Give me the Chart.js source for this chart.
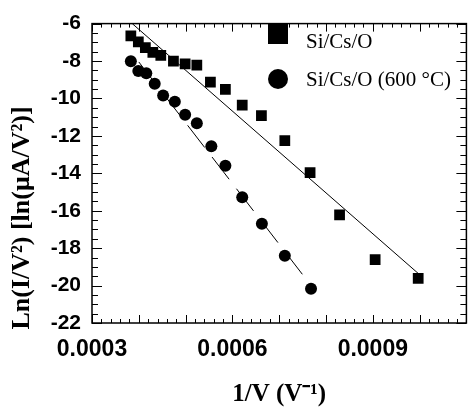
<!DOCTYPE html>
<html>
<head>
<meta charset="utf-8">
<script src="https://cdn.jsdelivr.net/npm/chart.js@4"></script>
<style>
  body { margin: 0; background: #fff; }
  canvas { display: block; }
</style>
</head>
<body>
<canvas id="myChart" width="474" height="407"></canvas>
<script>
// data
const squareX = [0.000383, 0.000399, 0.000414, 0.000430, 0.000447, 0.000474, 0.000499, 0.000524, 0.000553, 0.000585, 0.000621, 0.000662, 0.000712, 0.000766, 0.000829, 0.000905, 0.000997]
const squareY = [-6.66, -6.97, -7.28, -7.54, -7.70, -8.01, -8.15, -8.22, -9.13, -9.52, -10.36, -10.92, -12.25, -13.97, -16.22, -18.61, -19.61]
const circleX = [0.000383, 0.000399, 0.000416, 0.000434, 0.000452, 0.000477, 0.000499, 0.000524, 0.000555, 0.000585, 0.000621, 0.000663, 0.000712, 0.000768]
const circleY = [-8.01, -8.53, -8.65, -9.22, -9.84, -10.17, -10.87, -11.33, -12.55, -13.60, -15.28, -16.70, -18.40, -20.17]
// fitted lines (end points)
const fitSquareX = [0.000386, 0.000997]
const fitSquareY = [-6.0, -19.35]
const fitCircleX = [0.000400, 0.000765]
const fitCircleY = [-8.05, -19.9]

const xTickValues = [0.0003, 0.0006, 0.0009]
const yTickValues = [-6, -8, -10, -12, -14, -16, -18, -20, -22]
const legendLabels = ['Si/Cs/O', 'Si/Cs/O (600 °C)']
const xTitle = '1/V (V⁻¹)'
const yTitle = 'Ln(I/V²) [ln(μA/V²)]'

const toPoints = (xs, ys) => xs.map((x, i) => ({x: x, y: ys[i]}))
const chart = document.querySelector('#myChart')

// frame + inward ticks on all four sides, titles, legend
const decorations = {
  id: 'decorations',
  beforeDatasetsDraw(c) {
    const {ctx, chartArea: a, scales: {x, y}} = c
    ctx.save()
    ctx.strokeStyle = '#000'
    ctx.lineWidth = 1
    // x ticks: major every 0.0001, minor every 0.00002
    for (let i = 0; i <= 40; i++) {
      const v = 0.0003 + i * 0.00002
      const px = Math.round(x.getPixelForValue(v)) + 0.5
      const len = i % 5 === 0 ? 8 : 4
      ctx.beginPath()
      ctx.moveTo(px, a.bottom); ctx.lineTo(px, a.bottom - len)
      ctx.moveTo(px, a.top); ctx.lineTo(px, a.top + len)
      ctx.stroke()
    }
    // y ticks: major every 2, minor every 0.5
    for (let i = 0; i <= 32; i++) {
      const v = -22 + i * 0.5
      const py = Math.round(y.getPixelForValue(v)) + 0.5
      const len = i % 4 === 0 ? 10 : 6
      ctx.beginPath()
      ctx.moveTo(a.left, py); ctx.lineTo(a.left + len, py)
      ctx.moveTo(a.right, py); ctx.lineTo(a.right - len, py)
      ctx.stroke()
    }
    ctx.lineWidth = 1.5
    ctx.strokeRect(a.left, a.top, a.right - a.left, a.bottom - a.top)
    ctx.restore()
  },
  afterDraw(c) {
    const {ctx, chartArea: a} = c
    ctx.save()
    ctx.fillStyle = '#000'
    // legend
    ctx.fillRect(268, 24, 20, 20)
    ctx.beginPath()
    ctx.arc(278, 79, 10, 0, Math.PI * 2)
    ctx.fill()
    ctx.font = '21px "Liberation Serif"'
    ctx.textAlign = 'left'
    ctx.textBaseline = 'alphabetic'
    ctx.fillText(legendLabels[0], 306, 48)
    ctx.fillText(legendLabels[1], 306, 86)
    // axis titles
    ctx.font = 'bold 25px "Liberation Serif"'
    ctx.textAlign = 'center'
    ctx.textBaseline = 'middle'
    ctx.fillText(xTitle, (a.left + a.right) / 2, 395)
    ctx.translate(22, 218)
    ctx.rotate(-Math.PI / 2)
    ctx.font = 'bold 26px "Liberation Serif"'
    ctx.fillText(yTitle, 0, 0)
    ctx.restore()
  }
}

const myChart = new Chart(chart, {
  type: 'scatter',
  data: {
    datasets: [
      {
        label: legendLabels[0],
        data: toPoints(squareX, squareY),
        pointStyle: 'rect',
        pointRadius: 7.6,
        backgroundColor: '#000',
        borderWidth: 0
      },
      {
        label: legendLabels[1],
        data: toPoints(circleX, circleY),
        pointStyle: 'circle',
        pointRadius: 6,
        backgroundColor: '#000',
        borderWidth: 0
      },
      {
        type: 'line',
        data: toPoints(fitSquareX, fitSquareY),
        borderColor: '#000',
        borderWidth: 1,
        pointRadius: 0
      },
      {
        type: 'line',
        data: toPoints(fitCircleX, fitCircleY),
        borderColor: '#000',
        borderWidth: 1,
        borderDash: [28, 12],
        pointRadius: 0
      }
    ]
  },
  options: {
    responsive: false,
    animation: false,
    layout: { padding: { top: 15, right: 2, left: 0, bottom: 0 } },
    plugins: { legend: { display: false }, tooltip: { enabled: false } },
    scales: {
      x: {
        type: 'linear',
        min: 0.0003,
        max: 0.0011,
        afterBuildTicks: s => { s.ticks = xTickValues.map(v => ({value: v})) },
        afterFit: s => { s.height = 84 },
        grid: { display: false, drawTicks: false },
        border: { display: false },
        ticks: {
          color: '#000',
          padding: 13,
          maxRotation: 0,
          font: { family: '"Liberation Sans"', size: 23, weight: 'bold' },
          callback: v => v.toFixed(4)
        }
      },
      y: {
        type: 'linear',
        min: -22,
        max: -6,
        afterBuildTicks: s => { s.ticks = yTickValues.map(v => ({value: v})) },
        afterFit: s => { s.width = 92 },
        grid: { display: false, drawTicks: false },
        border: { display: false },
        ticks: {
          color: '#000',
          padding: 11,
          font: { family: '"Liberation Sans"', size: 21, weight: 'bold' }
        }
      }
    }
  },
  plugins: [decorations]
})
</script>
</body>
</html>
